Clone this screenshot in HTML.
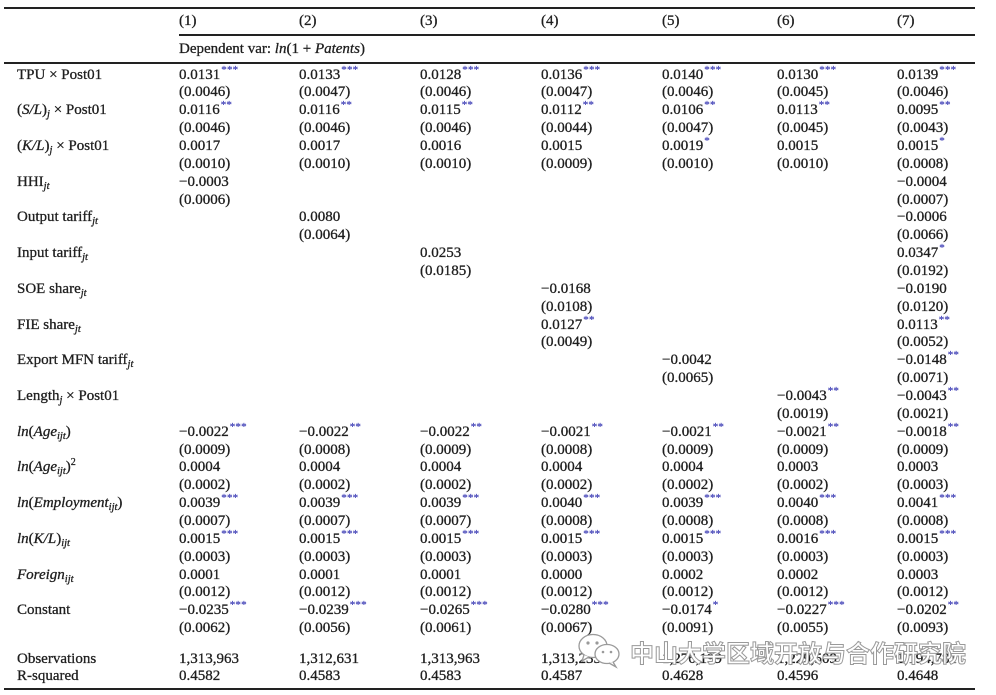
<!DOCTYPE html>
<html><head><meta charset="utf-8">
<style>
html,body{margin:0;padding:0;background:#fff;}
#w{position:relative;width:996px;height:695px;overflow:hidden;background:#fff;
font-family:"Liberation Serif","Noto Serif CJK SC",serif;font-size:15px;color:#1e1e1e;-webkit-text-stroke:0.3px #1e1e1e;}
.ln{position:absolute;height:2px;background:#222;}
.c{position:absolute;top:66.5px;}
.c div{height:17.87px;line-height:17.87px;white-space:nowrap;}
.h{position:absolute;white-space:nowrap;line-height:18px;}
.s{font-size:10.5px;font-style:italic;position:relative;top:3px;line-height:0;}
.p{font-size:10px;position:relative;top:-6px;line-height:0;}
.st{font-size:11px;color:#3a3ab4;-webkit-text-stroke:0.2px #3a3ab4;position:relative;top:-6px;line-height:0;margin-left:1px;letter-spacing:0.2px;}
i{font-style:italic;}
.wm{position:absolute;left:630px;top:638px;font-family:"Noto Sans CJK SC","WenQuanYi Zen Hei",sans-serif;font-size:24px;line-height:28px;letter-spacing:0px;color:#fff;-webkit-text-stroke:1px #9a9a9a;white-space:nowrap;font-weight:700;}
</style></head><body><div id="w">
<div class="ln" style="left:4px;top:7px;width:971px;"></div>
<div class="ln" style="left:179px;top:34px;width:796px;"></div>
<div class="ln" style="left:4px;top:62px;width:971px;"></div>
<div class="ln" style="left:4px;top:688px;width:971px;"></div>

<div class="h" style="left:179px;top:12px;">(1)</div>
<div class="h" style="left:299px;top:12px;">(2)</div>
<div class="h" style="left:420px;top:12px;">(3)</div>
<div class="h" style="left:541px;top:12px;">(4)</div>
<div class="h" style="left:662px;top:12px;">(5)</div>
<div class="h" style="left:777px;top:12px;">(6)</div>
<div class="h" style="left:897px;top:12px;">(7)</div>
<div class="h" style="left:179px;top:40px;">Dependent var: <i>ln</i>(1 + <i>Patents</i>)</div>

<div class="c" style="left:17px;">
<div>TPU × Post01</div><div></div>
<div>(<i>S/L</i>)<span class="s">j</span> × Post01</div><div></div>
<div>(<i>K/L</i>)<span class="s">j</span> × Post01</div><div></div>
<div>HHI<span class="s">jt</span></div><div></div>
<div>Output tariff<span class="s">jt</span></div><div></div>
<div>Input tariff<span class="s">jt</span></div><div></div>
<div>SOE share<span class="s">jt</span></div><div></div>
<div>FIE share<span class="s">jt</span></div><div></div>
<div>Export MFN tariff<span class="s">jt</span></div><div></div>
<div>Length<span class="s">j</span> × Post01</div><div></div>
<div><i>ln</i>(<i>Age</i><span class="s">ijt</span>)</div><div></div>
<div><i>ln</i>(<i>Age</i><span class="s">ijt</span>)<span class="p">2</span></div><div></div>
<div><i>ln</i>(<i>Employment</i><span class="s">ijt</span>)</div><div></div>
<div><i>ln</i>(<i>K/L</i>)<span class="s">ijt</span></div><div></div>
<div><i>Foreign</i><span class="s">ijt</span></div><div></div>
<div>Constant</div><div></div>
</div>

<div class="c" style="left:179px;">
<div>0.0131<span class="st">***</span></div><div>(0.0046)</div>
<div>0.0116<span class="st">**</span></div><div>(0.0046)</div>
<div>0.0017</div><div>(0.0010)</div>
<div>−0.0003</div><div>(0.0006)</div>
<div></div><div></div><div></div><div></div><div></div><div></div><div></div><div></div><div></div><div></div><div></div><div></div>
<div>−0.0022<span class="st">***</span></div><div>(0.0009)</div>
<div>0.0004</div><div>(0.0002)</div>
<div>0.0039<span class="st">***</span></div><div>(0.0007)</div>
<div>0.0015<span class="st">***</span></div><div>(0.0003)</div>
<div>0.0001</div><div>(0.0012)</div>
<div>−0.0235<span class="st">***</span></div><div>(0.0062)</div>
</div>

<div class="c" style="left:299px;">
<div>0.0133<span class="st">***</span></div><div>(0.0047)</div>
<div>0.0116<span class="st">**</span></div><div>(0.0046)</div>
<div>0.0017</div><div>(0.0010)</div>
<div></div><div></div>
<div>0.0080</div><div>(0.0064)</div>
<div></div><div></div><div></div><div></div><div></div><div></div><div></div><div></div><div></div><div></div>
<div>−0.0022<span class="st">**</span></div><div>(0.0008)</div>
<div>0.0004</div><div>(0.0002)</div>
<div>0.0039<span class="st">***</span></div><div>(0.0007)</div>
<div>0.0015<span class="st">***</span></div><div>(0.0003)</div>
<div>0.0001</div><div>(0.0012)</div>
<div>−0.0239<span class="st">***</span></div><div>(0.0056)</div>
</div>

<div class="c" style="left:420px;">
<div>0.0128<span class="st">***</span></div><div>(0.0046)</div>
<div>0.0115<span class="st">**</span></div><div>(0.0046)</div>
<div>0.0016</div><div>(0.0010)</div>
<div></div><div></div><div></div><div></div>
<div>0.0253</div><div>(0.0185)</div>
<div></div><div></div><div></div><div></div><div></div><div></div><div></div><div></div>
<div>−0.0022<span class="st">**</span></div><div>(0.0009)</div>
<div>0.0004</div><div>(0.0002)</div>
<div>0.0039<span class="st">***</span></div><div>(0.0007)</div>
<div>0.0015<span class="st">***</span></div><div>(0.0003)</div>
<div>0.0001</div><div>(0.0012)</div>
<div>−0.0265<span class="st">***</span></div><div>(0.0061)</div>
</div>

<div class="c" style="left:541px;">
<div>0.0136<span class="st">***</span></div><div>(0.0047)</div>
<div>0.0112<span class="st">**</span></div><div>(0.0044)</div>
<div>0.0015</div><div>(0.0009)</div>
<div></div><div></div><div></div><div></div><div></div><div></div>
<div>−0.0168</div><div>(0.0108)</div>
<div>0.0127<span class="st">**</span></div><div>(0.0049)</div>
<div></div><div></div><div></div><div></div>
<div>−0.0021<span class="st">**</span></div><div>(0.0008)</div>
<div>0.0004</div><div>(0.0002)</div>
<div>0.0040<span class="st">***</span></div><div>(0.0008)</div>
<div>0.0015<span class="st">***</span></div><div>(0.0003)</div>
<div>0.0000</div><div>(0.0012)</div>
<div>−0.0280<span class="st">***</span></div><div>(0.0067)</div>
</div>

<div class="c" style="left:662px;">
<div>0.0140<span class="st">***</span></div><div>(0.0046)</div>
<div>0.0106<span class="st">**</span></div><div>(0.0047)</div>
<div>0.0019<span class="st">*</span></div><div>(0.0010)</div>
<div></div><div></div><div></div><div></div><div></div><div></div><div></div><div></div><div></div><div></div>
<div>−0.0042</div><div>(0.0065)</div>
<div></div><div></div>
<div>−0.0021<span class="st">**</span></div><div>(0.0009)</div>
<div>0.0004</div><div>(0.0002)</div>
<div>0.0039<span class="st">***</span></div><div>(0.0008)</div>
<div>0.0015<span class="st">***</span></div><div>(0.0003)</div>
<div>0.0002</div><div>(0.0012)</div>
<div>−0.0174<span class="st">*</span></div><div>(0.0091)</div>
</div>

<div class="c" style="left:777px;">
<div>0.0130<span class="st">***</span></div><div>(0.0045)</div>
<div>0.0113<span class="st">**</span></div><div>(0.0045)</div>
<div>0.0015</div><div>(0.0010)</div>
<div></div><div></div><div></div><div></div><div></div><div></div><div></div><div></div><div></div><div></div><div></div><div></div>
<div>−0.0043<span class="st">**</span></div><div>(0.0019)</div>
<div>−0.0021<span class="st">**</span></div><div>(0.0009)</div>
<div>0.0003</div><div>(0.0002)</div>
<div>0.0040<span class="st">***</span></div><div>(0.0008)</div>
<div>0.0016<span class="st">***</span></div><div>(0.0003)</div>
<div>0.0002</div><div>(0.0012)</div>
<div>−0.0227<span class="st">***</span></div><div>(0.0055)</div>
</div>

<div class="c" style="left:897px;">
<div>0.0139<span class="st">***</span></div><div>(0.0046)</div>
<div>0.0095<span class="st">**</span></div><div>(0.0043)</div>
<div>0.0015<span class="st">*</span></div><div>(0.0008)</div>
<div>−0.0004</div><div>(0.0007)</div>
<div>−0.0006</div><div>(0.0066)</div>
<div>0.0347<span class="st">*</span></div><div>(0.0192)</div>
<div>−0.0190</div><div>(0.0120)</div>
<div>0.0113<span class="st">**</span></div><div>(0.0052)</div>
<div>−0.0148<span class="st">**</span></div><div>(0.0071)</div>
<div>−0.0043<span class="st">**</span></div><div>(0.0021)</div>
<div>−0.0018<span class="st">**</span></div><div>(0.0009)</div>
<div>0.0003</div><div>(0.0003)</div>
<div>0.0041<span class="st">***</span></div><div>(0.0008)</div>
<div>0.0015<span class="st">***</span></div><div>(0.0003)</div>
<div>0.0003</div><div>(0.0012)</div>
<div>−0.0202<span class="st">**</span></div><div>(0.0093)</div>
</div>

<div class="c" style="left:17px;top:650.5px;"><div>Observations</div><div>R-squared</div></div>
<div class="c" style="left:179px;top:650.5px;"><div>1,313,963</div><div>0.4582</div></div>
<div class="c" style="left:299px;top:650.5px;"><div>1,312,631</div><div>0.4583</div></div>
<div class="c" style="left:420px;top:650.5px;"><div>1,313,963</div><div>0.4583</div></div>
<div class="c" style="left:541px;top:650.5px;"><div>1,313,235</div><div>0.4587</div></div>
<div class="c" style="left:662px;top:650.5px;"><div>1,276,199</div><div>0.4628</div></div>
<div class="c" style="left:777px;top:650.5px;"><div>1,229,509</div><div>0.4596</div></div>
<div class="c" style="left:897px;top:650.5px;"><div>1,194,781</div><div>0.4648</div></div>

<svg style="position:absolute;left:576px;top:632px;" width="48" height="38" viewBox="0 0 48 38">
<ellipse cx="17" cy="14" rx="14" ry="11.5" fill="#fff" stroke="#9a9a9a" stroke-width="1.3"/>
<path d="M8 23 L6 29 L13 25" fill="#fff" stroke="#9a9a9a" stroke-width="1.3"/>
<circle cx="12" cy="11" r="1.6" fill="#9a9a9a"/>
<circle cx="21" cy="11" r="1.6" fill="#9a9a9a"/>
<ellipse cx="31" cy="22" rx="12" ry="9.5" fill="#fff" stroke="#9a9a9a" stroke-width="1.3"/>
<path d="M37 30 L40 35 L33 31" fill="#fff" stroke="#9a9a9a" stroke-width="1.3"/>
<circle cx="27" cy="20" r="1.3" fill="#9a9a9a"/>
<circle cx="35" cy="20" r="1.3" fill="#9a9a9a"/>
</svg>
<div class="wm">中山大学区域开放与合作研究院</div>
</div></body></html>
